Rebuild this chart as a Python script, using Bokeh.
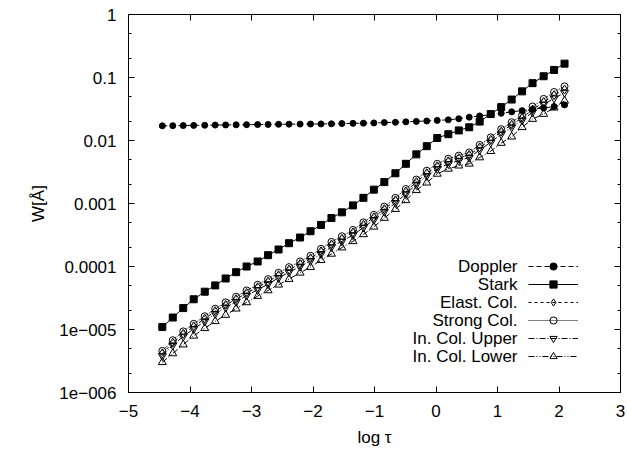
from bokeh.plotting import figure
from bokeh.models import (FixedTicker, LinearAxis, LogAxis, Legend, LegendItem,
                          Label, Range1d)
from bokeh.embed import file_html
from bokeh.resources import INLINE

# ---- data ----
log_tau = [-4.45, -4.28, -4.11, -3.94, -3.76, -3.59, -3.42, -3.25, -3.08, -2.90,
           -2.73, -2.56, -2.39, -2.21, -2.04, -1.87, -1.70, -1.53, -1.35, -1.18,
           -1.01, -0.84, -0.66, -0.49, -0.32, -0.15, 0.02, 0.20, 0.37, 0.54,
           0.71, 0.89, 1.06, 1.23, 1.40, 1.57, 1.75, 1.92, 2.09]

# log10 of W[Å]
doppler_log10w = [-1.767, -1.765, -1.763, -1.760, -1.758, -1.755, -1.753, -1.751, -1.749, -1.747,
                  -1.745, -1.743, -1.741, -1.740, -1.739, -1.737, -1.735, -1.731, -1.728, -1.725,
                  -1.721, -1.716, -1.711, -1.704, -1.697, -1.690, -1.681, -1.672, -1.655, -1.630,
                  -1.610, -1.590, -1.568, -1.545, -1.526, -1.503, -1.484, -1.462, -1.435]
stark_log10w = [-4.96, -4.81, -4.66, -4.52, -4.40, -4.30, -4.19, -4.09, -4.00, -3.92,
                -3.82, -3.73, -3.63, -3.54, -3.44, -3.34, -3.23, -3.14, -3.03, -2.91,
                -2.78, -2.66, -2.52, -2.37, -2.22, -2.09, -1.96, -1.90, -1.84, -1.79,
                -1.70, -1.58, -1.47, -1.35, -1.22, -1.09, -0.98, -0.88, -0.78]
elastic_log10w = [-5.38, -5.21, -5.07, -4.95, -4.83, -4.71, -4.61, -4.52, -4.42, -4.33,
                  -4.24, -4.14, -4.05, -3.96, -3.87, -3.76, -3.65, -3.56, -3.46, -3.34,
                  -3.22, -3.09, -2.95, -2.81, -2.66, -2.52, -2.41, -2.33, -2.28, -2.23,
                  -2.11, -1.99, -1.86, -1.75, -1.64, -1.51, -1.39, -1.28, -1.19]
strong_log10w = [-5.34, -5.17, -5.03, -4.91, -4.79, -4.67, -4.57, -4.48, -4.38, -4.29,
                 -4.20, -4.10, -4.01, -3.92, -3.83, -3.72, -3.61, -3.52, -3.42, -3.30,
                 -3.18, -3.05, -2.91, -2.77, -2.62, -2.48, -2.37, -2.29, -2.24, -2.19,
                 -2.07, -1.95, -1.82, -1.71, -1.60, -1.46, -1.34, -1.23, -1.14]
upper_log10w = [-5.42, -5.25, -5.11, -4.99, -4.87, -4.75, -4.65, -4.56, -4.46, -4.37,
                -4.28, -4.18, -4.09, -4.00, -3.91, -3.80, -3.69, -3.60, -3.50, -3.38,
                -3.26, -3.13, -2.99, -2.85, -2.70, -2.56, -2.45, -2.37, -2.32, -2.27,
                -2.15, -2.03, -1.90, -1.79, -1.68, -1.55, -1.43, -1.33, -1.24]
lower_log10w = [-5.52, -5.38, -5.24, -5.10, -4.98, -4.87, -4.77, -4.67, -4.57, -4.47,
                -4.38, -4.29, -4.20, -4.10, -4.01, -3.90, -3.80, -3.70, -3.60, -3.49,
                -3.37, -3.23, -3.09, -2.95, -2.79, -2.67, -2.53, -2.45, -2.40, -2.37,
                -2.27, -2.17, -2.04, -1.94, -1.79, -1.66, -1.58, -1.48, -1.37]

series_names = ["Doppler", "Stark", "Elast. Col.", "Strong Col.", "In. Col. Upper", "In. Col. Lower"]

x_ticks = [-5, -4, -3, -2, -1, 0, 1, 2, 3]
x_tick_labels = ["\u22125", "\u22124", "\u22123", "\u22122", "\u22121", "0", "1", "2", "3"]
y_ticks = [1e-6, 1e-5, 1e-4, 1e-3, 1e-2, 1e-1, 1.0]
y_tick_labels = ["1e\u2212006", "1e\u2212005", "0.0001", "0.001", "0.01", "0.1", "1"]
y_minor = [2e-6, 5e-6, 2e-5, 5e-5, 2e-4, 5e-4, 2e-3, 5e-3, 2e-2, 5e-2, 0.2, 0.5]

FONT = "Liberation Sans"
FS = "17px"


def to_w(vals):
    return [10 ** v for v in vals]


p = figure(width=627, height=450, output_backend="svg", toolbar_location=None,
           x_range=Range1d(-5, 3), y_range=Range1d(1e-6, 1), y_axis_type="log",
           min_border_left=128, min_border_right=7, min_border_top=14, min_border_bottom=58)
p.xgrid.visible = False
p.ygrid.visible = False
p.outline_line_color = "black"
p.outline_line_width = 1
p.background_fill_color = "white"
p.border_fill_color = "white"


def style_axis(ax, labels=True):
    ax.axis_line_color = "black"
    ax.axis_line_width = 1
    ax.major_tick_line_color = "black"
    ax.minor_tick_line_color = "black"
    ax.major_tick_in = 6
    ax.major_tick_out = 0
    ax.minor_tick_in = 3
    ax.minor_tick_out = 0
    ax.major_label_text_font = FONT
    ax.major_label_text_color = "black"
    if labels:
        ax.major_label_text_font_size = FS
    else:
        ax.major_label_text_font_size = "0px"
        ax.major_label_standoff = 0


xa = p.xaxis[0]
xa.ticker = FixedTicker(ticks=x_ticks, minor_ticks=[])
xa.major_label_overrides = dict(zip(x_ticks, x_tick_labels))
style_axis(xa)
xa.major_label_standoff = 12
xa.axis_label = "log \u03c4"
xa.axis_label_text_font = FONT
xa.axis_label_text_font_size = FS
xa.axis_label_text_font_style = "normal"
xa.axis_label_text_color = "black"
xa.axis_label_standoff = 8

ya = p.yaxis[0]
ya.ticker = FixedTicker(ticks=y_ticks, minor_ticks=y_minor)
ya.major_label_overrides = dict(zip(y_ticks, y_tick_labels))
style_axis(ya)
ya.major_label_standoff = 12
ya.axis_label = "W[\u00c5]"
ya.axis_label_text_font = FONT
ya.axis_label_text_font_size = FS
ya.axis_label_text_font_style = "normal"
ya.axis_label_text_color = "black"
ya.axis_label_standoff = 8

top = LinearAxis(ticker=FixedTicker(ticks=x_ticks, minor_ticks=[]),
                 major_label_overrides={t: "" for t in x_ticks})
style_axis(top, labels=False)
p.add_layout(top, "above")

right = LogAxis(ticker=FixedTicker(ticks=y_ticks, minor_ticks=y_minor),
                major_label_overrides={t: "" for t in y_ticks})
style_axis(right, labels=False)
p.add_layout(right, "right")

styles = [
    (doppler_log10w, "5 3", "circle", 6, "black"),
    (stark_log10w, "solid", "square", 7, "black"),
    (elastic_log10w, "3 3", "diamond", 9, None),
    (strong_log10w, "1 1", "circle", 7, None),
    (upper_log10w, "6 2 1 2", "inverted_triangle", 8, None),
    (lower_log10w, "6 2 1 2 1 2", "triangle", 8, None),
]

items = []
for name, (vals, dash, marker, size, fill) in zip(series_names, styles):
    w = to_w(vals)
    lr = p.line(log_tau, w, line_color="black", line_width=1, line_dash=dash)
    sr = p.scatter(log_tau, w, marker=marker, size=size, line_color="black",
                   line_width=1, fill_color=fill)
    items.append(LegendItem(label="", renderers=[lr, sr]))

legend = Legend(items=items, location=(400, 27), orientation="vertical",
                glyph_width=50, glyph_height=18, label_width=0, label_height=18,
                label_standoff=0, spacing=0, padding=0, margin=0,
                border_line_color=None, background_fill_alpha=0,
                label_text_font_size="1px")
p.add_layout(legend)

for i, name in enumerate(series_names):
    p.add_layout(Label(x=389, y=126 - 18 * i, x_units="screen", y_units="screen",
                       text=name, text_align="right", text_baseline="middle",
                       text_font=FONT, text_font_size=FS, text_color="black"))

open("out.html", "w").write(file_html(p, INLINE))
